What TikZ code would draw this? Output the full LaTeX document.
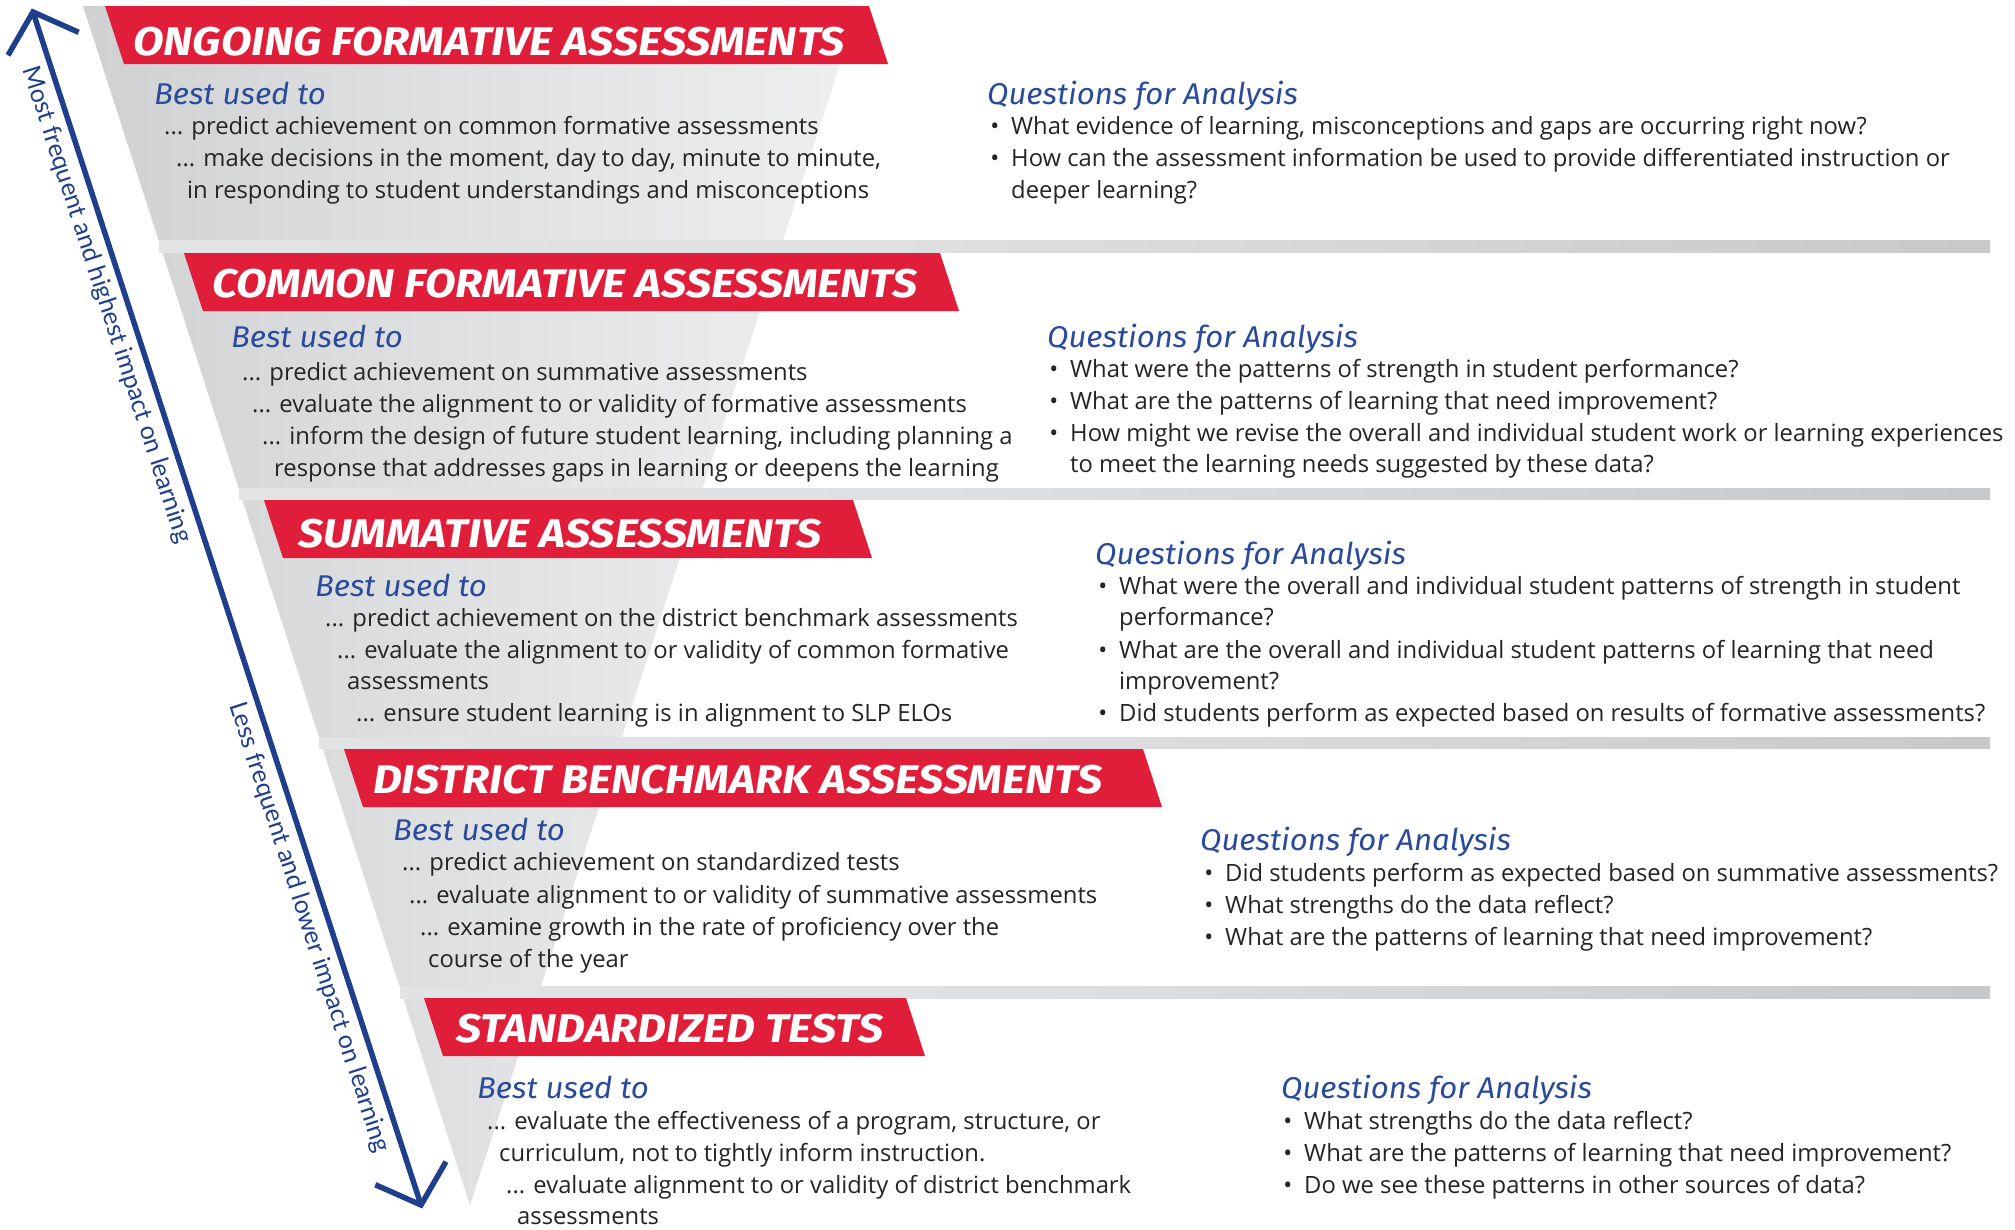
\documentclass[tikz,border=0pt]{standalone}
\usepackage{fontspec}
\setmainfont{Open Sans}
\newfontfamily\bannerfont{Fira Sans}[FakeStretch=1.115]
\newfontfamily\cuefont{Fira Sans}[FakeStretch=1.04]
\newfontfamily\axisfont{Lato}
\usetikzlibrary{calc}

\definecolor{bannerred}{HTML}{E11E3A}
\definecolor{deepblue}{HTML}{1F3F8C}
\definecolor{headblue}{HTML}{2A4B9B}
\definecolor{bodytext}{HTML}{262324}
\definecolor{panelA}{HTML}{BDBFC1}
\definecolor{panelB}{HTML}{DADBDD}
\definecolor{panelC}{HTML}{EEEFEF}
\definecolor{panelD}{HTML}{FAFAFA}
\definecolor{barA}{HTML}{E3E4E5}
\definecolor{barB}{HTML}{DFE0E1}
\definecolor{barC}{HTML}{B4B5B7}

\pgfdeclarehorizontalshading{funnelgrad}{100bp}{color(0bp)=(panelA); color(40bp)=(panelB); color(75bp)=(panelC); color(100bp)=(panelD)}
\pgfdeclarehorizontalshading{bargrad}{100bp}{color(0bp)=(white); color(20bp)=(barA); color(45bp)=(barB); color(100bp)=(barC)}

\newcommand\qbullet{\llap{\textbullet\hspace{12pt}}}

\tikzset{
  bannerfill/.style={fill=bannerred},
  bannertitle/.style={anchor=base west, inner sep=0pt, text=white,
    font=\bannerfont\bfseries\itshape\fontsize{40}{40}\selectfont},
  cue/.style={anchor=base west, inner sep=0pt, text=headblue,
    font=\cuefont\itshape\fontsize{30}{30}\selectfont},
  body/.style={anchor=base west, inner sep=0pt, text=bodytext,
    font=\fontsize{23.8}{23.8}\selectfont},
  axislabel/.style={inner sep=0pt, text=deepblue,
    font=\axisfont\fontsize{25}{25}\selectfont},
  axisline/.style={draw=deepblue, line width=5.5pt, miter limit=10},
}

\begin{document}
\begin{tikzpicture}[x=1pt, y=-1pt]
\useasboundingbox (0,0) rectangle (2015,1229);
\fill[white] (0,0) rectangle (2015,1229);

% funnel background
\shade[shading=funnelgrad] (83,6) -- (859,6) -- (470,1205) -- cycle;

% separator bars
\shade[shading=bargrad] (159,240) rectangle (1990,252);
\shade[shading=bargrad] (239,488) rectangle (1990,499);
\shade[shading=bargrad] (319,737) rectangle (1990,748);
\shade[shading=bargrad] (400,986) rectangle (1990,998);

% red banners
\fill[bannerfill] (105,6) -- (869,6) -- (888,64) -- (124,64) -- cycle;
\fill[bannerfill] (184,253) -- (940,253) -- (959,311) -- (203,311) -- cycle;
\fill[bannerfill] (264,500) -- (853,500) -- (872,558) -- (283,558) -- cycle;
\fill[bannerfill] (344,749) -- (1143,749) -- (1162,807) -- (363,807) -- cycle;
\fill[bannerfill] (424,998) -- (906,998) -- (925,1056) -- (443,1056) -- cycle;

\node[bannertitle] (t1) at (133,55) {ONGOING FORMATIVE ASSESSMENTS};
\node[bannertitle] (t2) at (212,297) {COMMON FORMATIVE ASSESSMENTS};
\node[bannertitle] (t3) at (298,547) {SUMMATIVE ASSESSMENTS};
\node[bannertitle] (t4) at (373,793) {DISTRICT BENCHMARK ASSESSMENTS};
\node[bannertitle] (t5) at (456,1042) {STANDARDIZED TESTS};

% section 1
\node[cue] (b1) at (154,104) {Best used to};
\node[body] (b1a) at (164,134) {... predict achievement on common formative assessments};
\node[body] (b1b) at (176,166) {... make decisions in the moment, day to day, minute to minute,};
\node[body] (b1c) at (187,198) {in responding to student understandings and misconceptions};
\node[cue] (q1) at (987,104) {Questions for Analysis};
\node[body] (q1a) at (1011,134) {\qbullet What evidence of learning, misconceptions and gaps are occurring right now?};
\node[body] (q1b) at (1011,166) {\qbullet How can the assessment information be used to provide differentiated instruction or};
\node[body] (q1c) at (1011,198) {deeper learning?};

% section 2
\node[cue] (b2) at (231,347) {Best used to};
\node[body] (b2a) at (242,380) {... predict achievement on summative assessments};
\node[body] (b2b) at (252,412) {... evaluate the alignment to or validity of formative assessments};
\node[body] (b2c) at (262,444) {... inform the design of future student learning, including planning a};
\node[body] (b2d) at (274,476) {response that addresses gaps in learning or deepens the learning};
\node[cue] (q2) at (1047,347) {Questions for Analysis};
\node[body] (q2a) at (1070,377) {\qbullet What were the patterns of strength in student performance?};
\node[body] (q2b) at (1070,409) {\qbullet What are the patterns of learning that need improvement?};
\node[body] (q2c) at (1070,441) {\qbullet How might we revise the overall and individual student work or learning experiences};
\node[body] (q2d) at (1070,472) {to meet the learning needs suggested by these data?};

% section 3
\node[cue] (b3) at (315,596) {Best used to};
\node[body] (b3a) at (325,626) {... predict achievement on the district benchmark assessments};
\node[body] (b3b) at (337,658) {... evaluate the alignment to or validity of common formative};
\node[body] (b3c) at (347,689) {assessments};
\node[body] (b3d) at (356,721) {... ensure student learning is in alignment to SLP ELOs};
\node[cue] (q3) at (1095,564) {Questions for Analysis};
\node[body] (q3a) at (1119,594) {\qbullet What were the overall and individual student patterns of strength in student};
\node[body] (q3b) at (1119,625) {performance?};
\node[body] (q3c) at (1119,658) {\qbullet What are the overall and individual student patterns of learning that need};
\node[body] (q3d) at (1119,689) {improvement?};
\node[body] (q3e) at (1119,721) {\qbullet Did students perform as expected based on results of formative assessments?};

% section 4
\node[cue] (b4) at (393,840) {Best used to};
\node[body] (b4a) at (402,870) {... predict achievement on standardized tests};
\node[body] (b4b) at (409,903) {... evaluate alignment to or validity of summative assessments};
\node[body] (b4c) at (420,935) {... examine growth in the rate of proficiency over the};
\node[body] (b4d) at (428,967) {course of the year};
\node[cue] (q4) at (1200,850) {Questions for Analysis};
\node[body] (q4a) at (1225,881) {\qbullet Did students perform as expected based on summative assessments?};
\node[body] (q4b) at (1225,913) {\qbullet What strengths do the data reflect?};
\node[body] (q4c) at (1225,945) {\qbullet What are the patterns of learning that need improvement?};

% section 5
\node[cue] (b5) at (477,1098) {Best used to};
\node[body] (b5a) at (487,1129) {... evaluate the effectiveness of a program, structure, or};
\node[body] (b5b) at (499,1161) {curriculum, not to tightly inform instruction.};
\node[body] (b5c) at (506,1193) {... evaluate alignment to or validity of district benchmark};
\node[body] (b5d) at (517,1224) {assessments};
\node[cue] (q5) at (1281,1098) {Questions for Analysis};
\node[body] (q5a) at (1304,1129) {\qbullet What strengths do the data reflect?};
\node[body] (q5b) at (1304,1161) {\qbullet What are the patterns of learning that need improvement?};
\node[body] (q5c) at (1304,1193) {\qbullet Do we see these patterns in other sources of data?};

% frequency / impact axis
\coordinate (tipT) at (33,12);
\coordinate (tipB) at (421,1205);
\draw[axisline] (tipT) -- (tipB);
\draw[axisline] ($(tipT)!50pt!48:(tipB)$) -- (tipT) -- ($(tipT)!50pt!-48:(tipB)$);
\draw[axisline] ($(tipB)!50pt!48:(tipT)$) -- (tipB) -- ($(tipB)!50pt!-48:(tipT)$);
\path (tipT) -- (tipB)
  node[axislabel, pos=0.24, sloped, below=9pt] (most) {Most frequent and highest impact on learning}
  node[axislabel, pos=0.762, sloped, below=9pt] (less) {Less frequent and lower impact on learning};
\end{tikzpicture}
\end{document}
